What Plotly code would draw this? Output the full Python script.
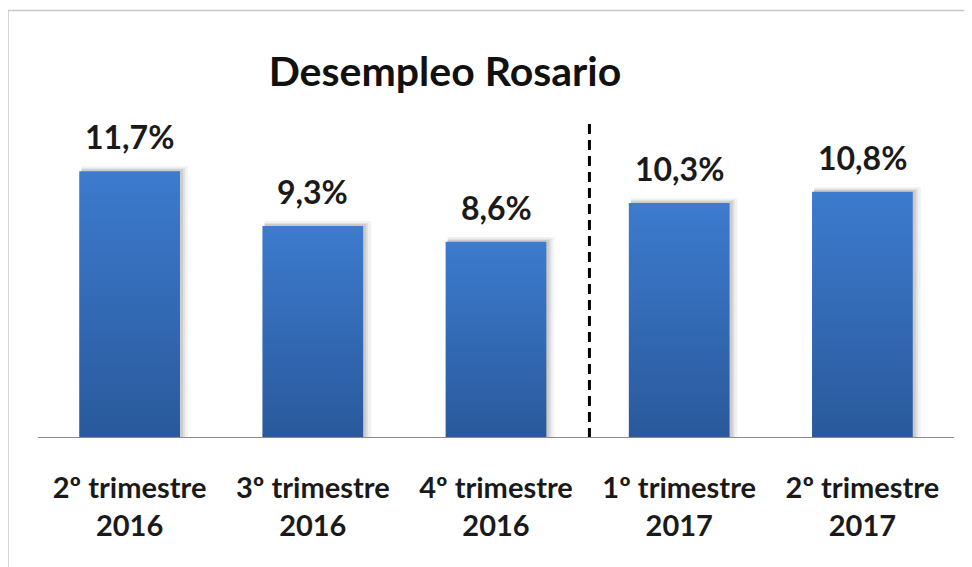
import plotly.graph_objects as go

categories = ["2º trimestre<br>2016", "3º trimestre<br>2016", "4º trimestre<br>2016",
              "1º trimestre<br>2017", "2º trimestre<br>2017"]
values = [11.7, 9.3, 8.6, 10.3, 10.8]
value_labels = ["11,7%", "9,3%", "8,6%", "10,3%", "10,8%"]
title_text = "Desempleo Rosario"

FONT = "Lato"
TOP_COL = "#3d7bce"
BOT_COL = "#29599b"
HALF_W = 0.275
OFF = 8  # page body margin compensation

fig = go.Figure()

# soft shadows
px_x = 1 / 183.0
px_y = 1 / 22.8
for i, v in enumerate(values):
    for k, a in [(8, 0.05), (5, 0.07), (3, 0.09)]:
        x0 = i - HALF_W + 2 * px_x
        x1 = i + HALF_W + k * px_x
        y1 = v + k * 0.6 * px_y
        fig.add_trace(go.Scatter(
            x=[x0, x1, x1, x0, x0], y=[0, 0, y1, y1, 0],
            mode="lines", line=dict(width=0), fill="toself",
            fillcolor=f"rgba(0,0,0,{a})", hoverinfo="skip", showlegend=False))

# bars with vertical gradient
for i, v in enumerate(values):
    x0, x1 = i - HALF_W, i + HALF_W
    fig.add_trace(go.Scatter(
        x=[x0, x1, x1, x0, x0], y=[0, 0, v, v, 0],
        mode="lines", line=dict(width=0), fill="toself",
        fillgradient=dict(type="vertical",
                          colorscale=[[0, BOT_COL], [1, TOP_COL]]),
        hoverinfo="skip", showlegend=False))

for i, (v, t) in enumerate(zip(values, value_labels)):
    fig.add_annotation(x=i, y=v, text=f"<b>{t}</b>", showarrow=False,
                       yanchor="bottom", yshift=13,
                       font=dict(family=FONT, size=32, color="#1a1a1a"))

# dashed separator between 2016 and 2017
fig.add_shape(type="line", x0=2.51, x1=2.51, y0=0, y1=13.77, xref="x", yref="y",
              line=dict(color="black", width=3, dash="10px,6px"))

# plot area in target pixel coordinates (shifted by page offset)
PL, PR, PT, PB = 38 - OFF, 954 - OFF, 100 - OFF, 438 - OFF
def px2x(p):
    return (p - OFF - PL) / (PR - PL)
def py2y(p):
    return (PB - (p - OFF)) / (PB - PT)

# outer frame (top and left edges)
fig.add_shape(type="line", xref="paper", yref="paper",
              x0=px2x(8), x1=px2x(990), y0=py2y(10.5), y1=py2y(10.5),
              line=dict(color="#c8c8c8", width=1.5))
fig.add_shape(type="line", xref="paper", yref="paper",
              x0=px2x(8), x1=px2x(8), y0=py2y(10.5), y1=py2y(590),
              line=dict(color="#c8c8c8", width=1.5))

fig.update_layout(
    width=972, height=567,
    margin=dict(l=PL, r=972 - PR, t=PT, b=567 - PB),
    paper_bgcolor="white", plot_bgcolor="white",
    title=dict(text=f"<b>{title_text}</b>", x=(445 - OFF) / 972, xanchor="center",
               y=1 - (72 - OFF) / 567, yanchor="middle",
               font=dict(family=FONT, size=41, color="#111111")),
    xaxis=dict(range=[-0.5, 4.5], tickmode="array", tickvals=list(range(5)),
               ticktext=[f"<b>{c}</b>" for c in categories],
               showgrid=False, zeroline=False, showline=False, ticks="",
               ticklabelstandoff=30,
               tickfont=dict(family=FONT, size=29, color="#1a1a1a")),
    yaxis=dict(range=[0, 14.82], visible=False, showgrid=False, zeroline=False),
    showlegend=False,
)
# baseline
fig.add_shape(type="line", xref="paper", yref="y", x0=0, x1=1, y0=0, y1=0,
              line=dict(color="#8a8a8a", width=2))

fig.write_html("out.html")
